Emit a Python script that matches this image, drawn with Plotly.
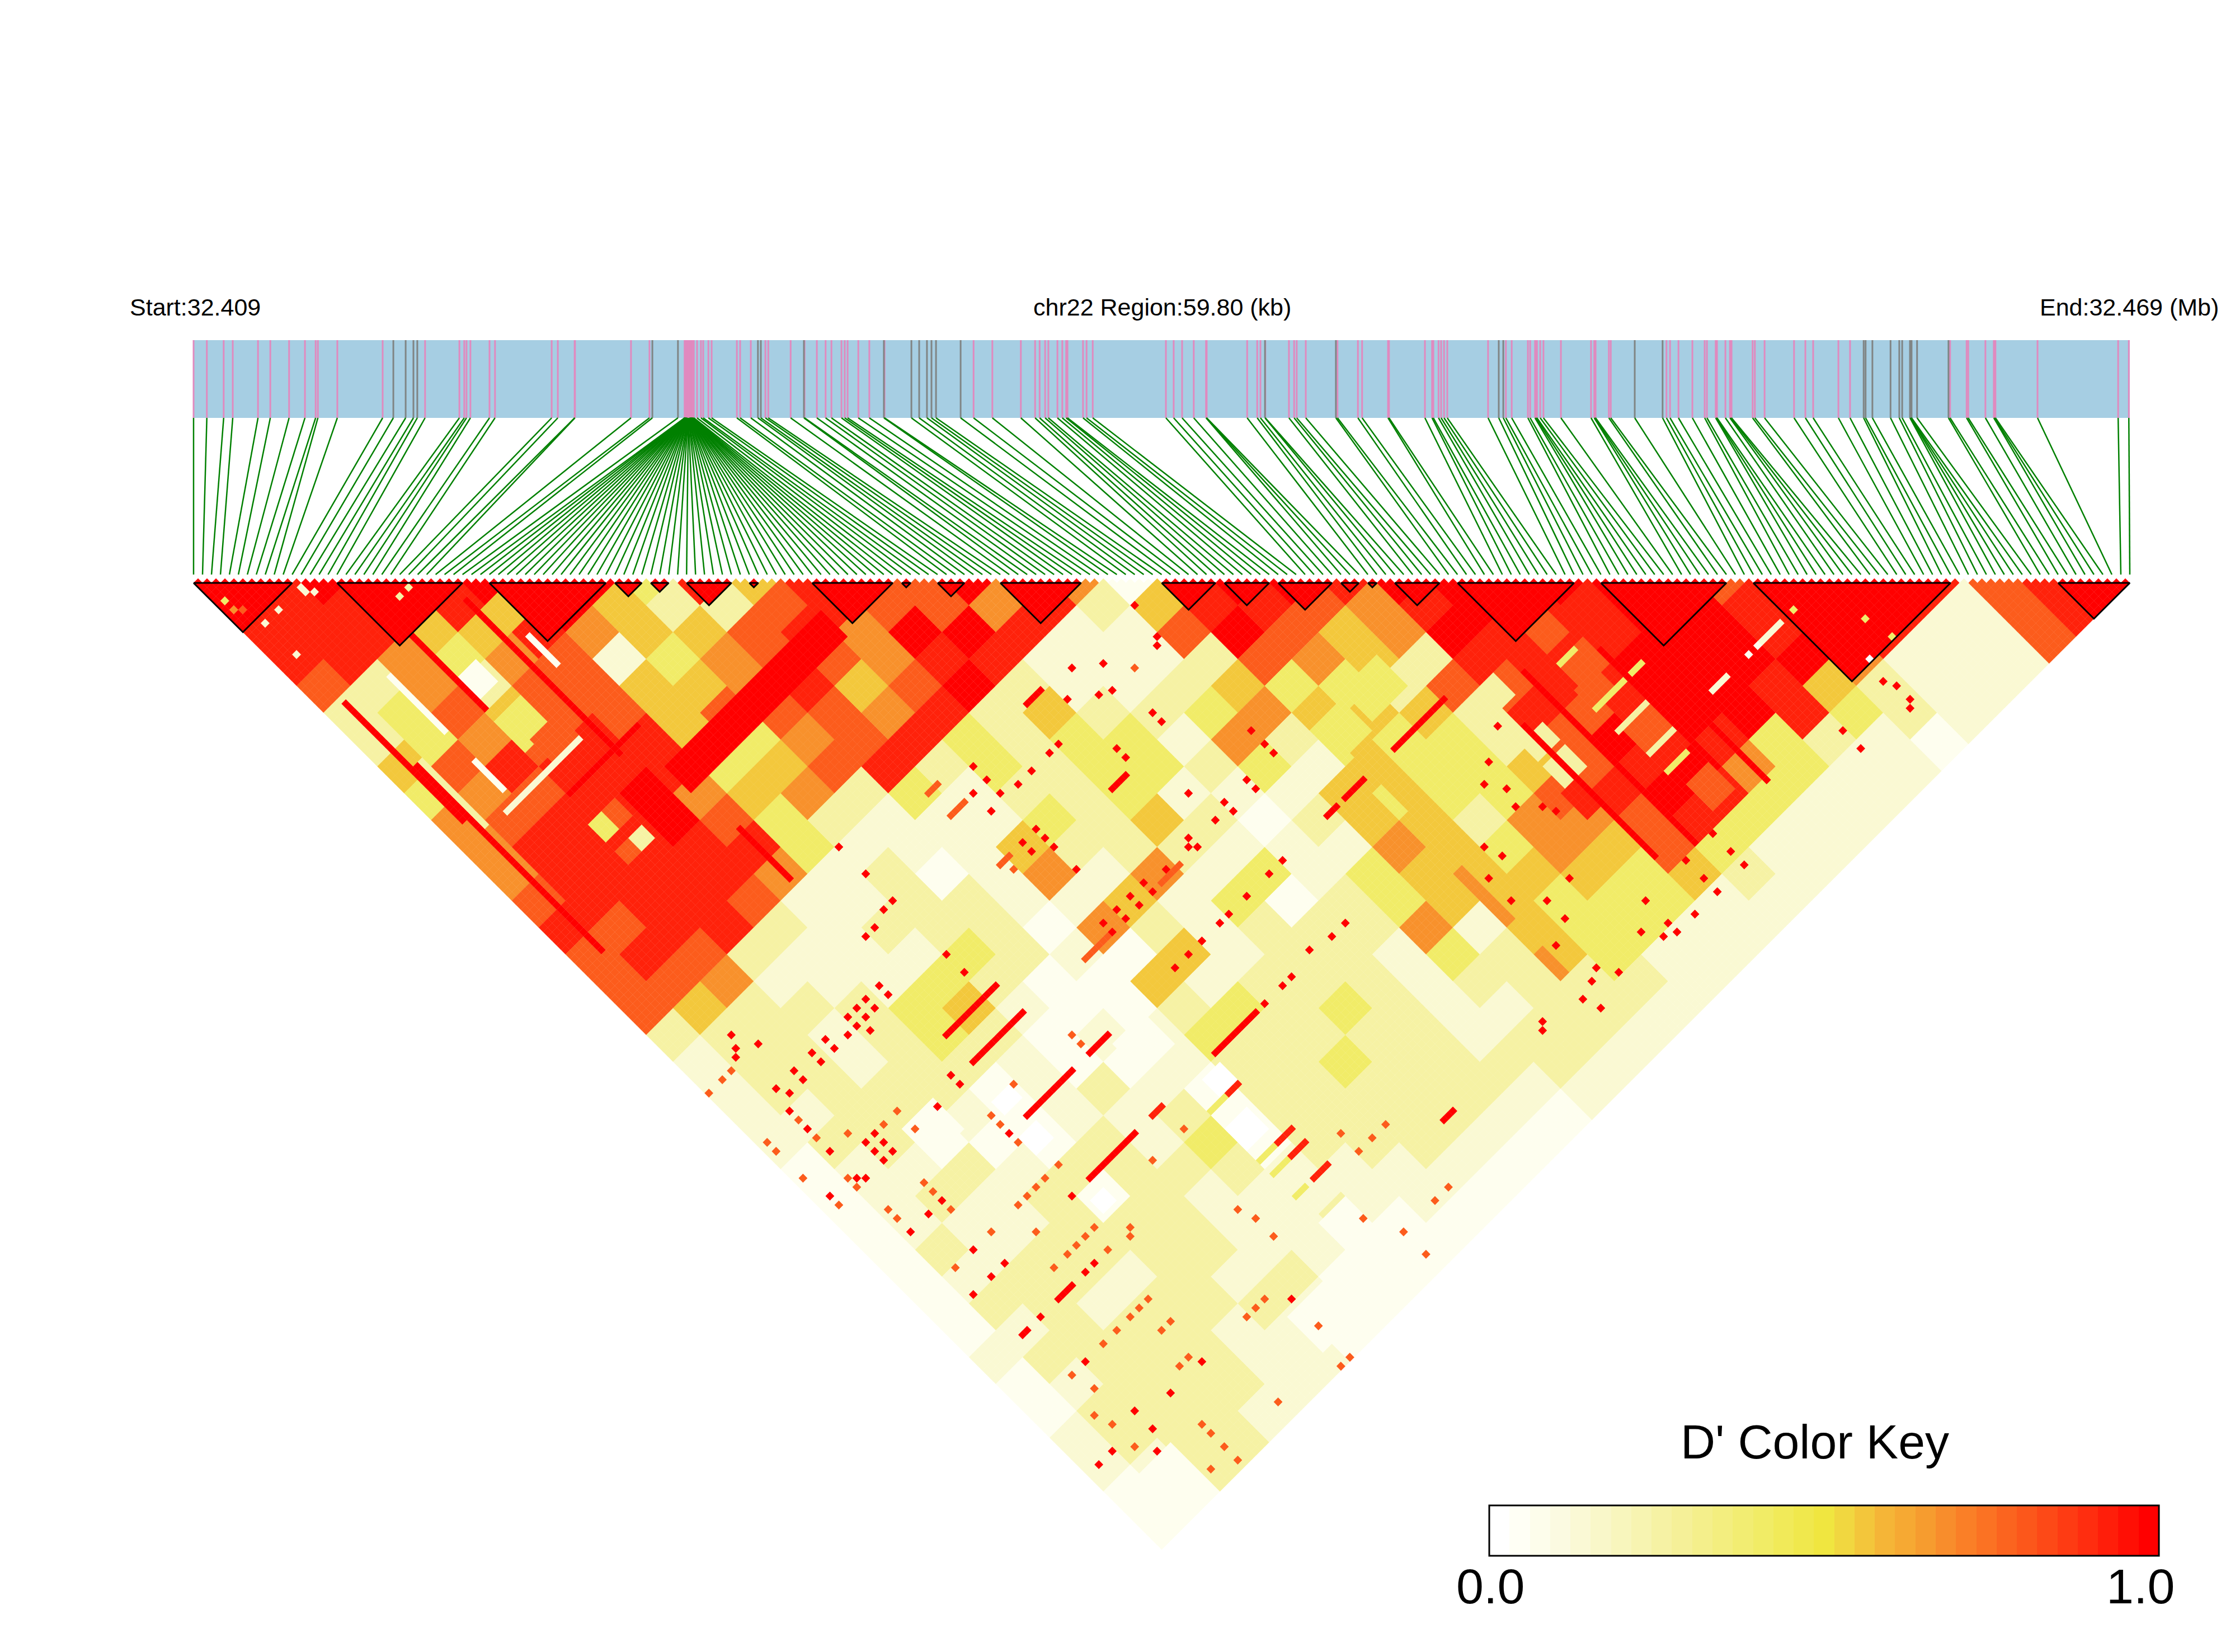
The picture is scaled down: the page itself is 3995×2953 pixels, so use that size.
import numpy as np
import plotly.graph_objects as go

# ---------- SNP positions read from the track (kb from region start) ----------
snp_kb = [
 0.00,0.41,0.93,1.21,1.99,2.37,2.95,3.44,3.77,3.84,4.44,5.84,6.17,6.55,6.79,6.91,7.15,8.21,8.36,8.43,8.55,9.14,9.31,
 11.06,11.25,11.77,11.78,13.51,14.08,14.17,14.96,
 15.17,15.17,15.18,15.18,15.19,15.19,15.20,15.20,15.20,15.21,15.21,15.22,15.22,15.23,15.23,15.24,15.24,15.25,15.25,
 15.26,15.26,15.27,15.27,15.27,15.28,15.28,15.29,15.29,15.30,15.30,15.31,15.31,15.32,15.32,15.33,15.33,15.34,15.34,
 15.35,15.35,15.36,15.36,15.37,15.38,15.39,15.40,15.42,
 15.45,15.55,15.67,15.74,15.90,16.00,16.78,16.88,17.21,17.43,17.52,17.66,17.75,18.44,18.85,18.87,19.25,19.52,19.70,
 20.01,20.11,20.20,20.53,20.87,21.32,21.34,22.17,22.41,22.65,22.79,22.93,23.69,24.09,24.67,25.55,25.99,26.13,26.30,26.40,
 26.68,26.83,26.95,26.99,27.47,27.58,27.77,
 30.03,30.27,30.53,30.89,31.27,31.28,31.29,32.54,32.85,32.95,33.09,33.10,33.83,33.99,34.07,34.35,35.28,35.33,35.96,36.09,
 36.89,36.92,38.03,38.25,38.29,38.45,38.53,38.62,38.72,39.98,40.31,40.45,40.53,40.71,41.21,41.28,41.43,41.46,41.49,41.59,41.69,
 42.23,43.16,43.26,43.28,43.30,43.71,43.77,44.51,
 45.37,45.49,45.60,45.86,46.29,46.67,46.74,47.01,47.03,47.05,47.31,47.45,47.48,47.50,48.15,48.22,48.52,49.43,49.78,50.02,
 50.80,51.16,51.58,51.64,51.85,52.41,52.68,52.77,53.01,53.03,53.04,53.06,53.23,54.20,54.25,54.76,54.81,55.34,55.60,55.62,55.65,
 56.95,59.44,59.77]
grey_kb = [6.17,6.55,6.79,6.91,14.17,14.96,17.43,17.52,18.85,21.32,22.17,22.41,22.65,22.79,22.93,23.69,33.09,35.28,
           40.31,40.45,44.51,45.37,51.58,51.64,51.85,52.41,52.68,52.77,53.01,53.03,53.04,53.06,53.23,54.20]
region_kb = 59.80
assert len(snp_kb) == 217, len(snp_kb)

# ---------- LD blocks (first SNP, last SNP) ----------
ld_blocks = [(0,11),(16,30),(33,46),(47,50),(51,53),(55,60),(62,63),(69,78),(79,80),(83,86),(90,99),
             (108,114),(115,120),(121,127),(128,130),(131,132),(134,139),(141,154),(157,171),(174,196),(208,216)]

# ---------- D' levels estimated per 6-SNP bin; one string per bin distance ----------
level_value = [0.0,0.05,0.13,0.25,0.4,0.56,0.68,0.8,0.93,1.0]
ld_rows = [
 "999999994858979961899899999979998789",
 "988885953378"+"77683588768"+"988998998278",
 "8885586557"+"8699822797"+"5698889989"+"8227",
 "8864672467"+"7688222376"+"5388899996"+"222",
 "7363775568"+"5793223544"+"3778899853"+"22",
 "3475775777"+"6835334655"+"5387899843"+"2",
 "3467885467"+"8434426344"+"4379884321",
 "5788884578"+"3434434254"+"457896422",
 "4678965634"+"2334222544"+"47898422",
 "6788974322"+"2435313553"+"6678422",
 "6888884222"+"5333222654"+"657422",
 "6888862312"+"6262424565"+"54532",
 "7888722332"+"2524134564"+"4422",
 "8788323331"+"6323336254"+"422",
 "7873222432"+"1523324364"+"22",
 "7762224311"+"5233323333"+"2",
 "7533345211"+"3434322332",
 "3332343122433332332",
 "233233211233433332",
 "23333123213333322",
 "2233212231333321",
 "233111324133321",
 "12232333322221",
 "1232313222221",
 "122233322111",
 "13233332211",
 "1233232311",
 "133233321",
 "12333221",
 "2333322",
 "123332",
 "13332",
 "2333",
 "223",
 "12",
 "1",
]
for d, r in enumerate(ld_rows):
    assert len(r) == 36 - d, (d, len(r))
bin_snps = 6

# runs: (first i, last i, first j, last j, level)
ld_patches = [(110,113,146,197,5),(116,123,141,147,4),(108,114,142,148,4),
              (54,58,177,181,0),(57,60,169,172,0),(51,57,155,161,1),(30,33,155,158,0),(31,34,148,150,0),(18,24,141,147,1),
              (31,33,170,172,0),(40,50,205,212,1),(50,60,208,216,1),(0,12,206,216,1),(0,5,140,148,1),
              (19,22,41,45,1),(18,23,50,56,4),(20,25,56,60,7),
              (32,66,74,79,9),(17,19,72,75,4),(17,19,78,80,7),(20,22,78,80,3),(20,22,72,75,7),
              (143,148,162,167,7),(142,146,167,171,7),(143,148,177,181,7),(143,147,154,159,7),
              (130,134,156,160,3),(130,134,172,176,3),(130,134,167,170,3),(129,132,177,182,8),(144,148,190,195,7)]
# fixed j, i from..to, level
ld_j_runs = [(173,54,58,4),(184,54,58,4),(187,54,58,4),(192,54,56,4),(197,55,59,3),
             (106,58,60,7),(111,58,61,7),(122,58,60,7),(142,57,62,7),(142,74,78,7),
             (135,33,44,9),(141,33,44,9),(153,33,43,9),(153,47,51,9),(167,33,43,9),(167,61,70,9),(126,79,82,9),
             (153,100,102,9),(153,104,108,9),(153,115,126,9),(107,79,82,9),(173,58,60,8),(167,47,49,8),(184,58,61,8),
             (187,58,61,8),(192,58,61,8),(200,79,81,9),(177,16,19,9),(66,18,33,9),
             (171,142,152,4),(176,142,149,3),(182,143,148,3),(186,143,147,4),(162,143,146,4),(182,157,160,2),(182,168,172,2),
             (61,9,25,2)]
# fixed i, j from..to, level
ld_i_runs = [(11,33,45,1),(5,46,60,3),
             (3,31,57,9),(4,46,87,9),(18,30,47,9),(28,33,67,9),(33,89,100,9),(138,159,197,9),(132,165,194,9),
             (153,172,198,9),(149,165,186,9),(31,44,50,1),(11,52,58,1)]
red_pairs = [(8,113),(7,114),(11,115),(12,122),(16,122),(16,124),(19,124),(19,122),(12,124),(7,126),(29,140),(29,142),(24,142),
 (7,130),(7,135),(14,138),(12,138),(14,140),(12,140),(14,142),(12,142),(7,141),(8,142),(2,140),(7,153),(11,153),(14,153),(12,162),
 (7,167),(11,167),(14,167),(29,153),(22,177),(24,177),(29,167),(12,177),(12,187),(25,200),(18,200),(12,198),(5,200),(10,205),(12,202),
 (2,200),(42,203),(8,122),(9,124),(9,111),(8,177),(9,177),
 (92,111),(88,108),(102,108),(101,114),(100,115),(88,114),(90,115),(84,111),(92,122),(92,124),(84,122),(84,124),(76,115),(78,115),
 (72,115),(66,108),(66,111),(63,111),(69,115),(66,114),(63,115),(87,135),(90,140),(90,142),(87,141),(95,140),(95,142),(101,135),
 (101,138),(101,140),(82,140),(81,141),(82,142),(66,122),(66,124),(63,122),(63,124),(66,126),(66,131),(42,108),(42,102),(42,114),
 (40,114),(37,115),(35,115),(66,140),(69,140),(69,142),(66,142),(72,142),(76,141),(72,140),(63,140),(63,142),(82,153),(78,153),
 (76,153),(72,153),(69,153),(66,153),(83,166),(76,167),(78,167),(72,167),(90,153),(87,153),(42,126),(42,130),(31,122),(28,122),
 (31,124),(28,124),(26,122),(24,122),(26,124),(24,124),(25,126),(22,124),(90,167),(87,167),
 (178,205),(177,206),(177,200),(178,202),(167,201),(167,205),(141,198),(141,205),(141,202),(135,205),(135,198),(135,202),(130,205),
 (126,203),(124,204),(122,201),(126,205),(126,198),(120,187),(115,187),(113,200),(115,203),(111,201),(108,202),(109,205),(101,200),
 (100,201),(115,191),(121,167),(129,162),(124,165),(123,170),(122,173),(126,178),(125,176),(114,174),(115,177),(111,178),(111,193),(111,183)]
orange_pairs = [(0,115),(5,115),(3,115),(7,128),(7,132),(11,135),(6,140),(6,142),(7,148),(7,150),(2,142),(1,129),(1,127),(1,135),
 (14,149),(14,151),(14,155),(16,162),(8,162),(21,167),(19,173),(22,173),(24,173),(26,173),(28,173),(27,177),(28,162),(26,162),(24,162),
 (22,162),(29,155),(29,151),(29,149),(19,142),(19,138),(16,138),(35,148),(31,162),(42,172),(49,172),(46,187),(47,190),(47,194),(31,178),
 (32,177),(26,187),(24,187),(22,187),(19,187),(16,187),(9,187),(10,191),(7,194),(8,197),(8,202),(18,207),(18,209),(18,212),(18,215),
 (14,213),(29,213),(62,213),(62,208),(69,208),(59,202),(72,194),(69,194),(66,190),(66,194),(72,208),(39,200),(37,200),(35,200),(42,209),
 (42,216),(40,216),(24,198),(22,198),(24,192),(26,192),(95,115),(47,149),(47,151),(59,124)]
other_pairs = [(1,6,4),(1,8,6),(2,9,7),(11,13,2),(11,14,2),(12,15,2),(6,13,2),(3,13,2),(3,20,2),(21,25,3),(23,25,3),
 (175,182,4),(182,191,4),(178,196,0),(183,196,4),(165,182,1),(167,182,1)]

key_steps = 33
colorscale = [[0,'#FFFFFF'],[0.03,'#FFFFF5'],[0.1,'#FBFADF'],[0.2,'#F8F5B8'],[0.3,'#F4EF90'],[0.4,'#F1EC68'],[0.5,'#F0E640'],
              [0.53,'#F1D840'],[0.6,'#F5B236'],[0.65,'#F69F30'],[0.7,'#F9872A'],[0.8,'#FC5C1C'],[0.9,'#FF3010'],[1,'#FF0000']]

# ---------- assemble the matrix ----------
N = len(snp_kb)
M = np.zeros((N, N))
for i in range(N):
    for j in range(i + 1, N):
        I, J = min(i // bin_snps, 35), min(j // bin_snps, 35)
        M[i, j] = level_value[int(ld_rows[J - I][I])]
for a, b, c, e, v in ld_patches:
    for i in range(a, b + 1):
        for j in range(c, e + 1):
            if i < j: M[i, j] = level_value[v]
for j, a, b, v in ld_j_runs:
    for i in range(a, b + 1):
        if i < j: M[i, j] = level_value[v]
for i, a, b, v in ld_i_runs:
    for j in range(a, b + 1):
        if i < j: M[i, j] = level_value[v]
for a, b in ld_blocks:
    for i in range(a, b + 1):
        for j in range(i + 1, b + 1):
            M[i, j] = 1.0
for i, j in red_pairs:
    M[i, j] = 1.0
for i, j in orange_pairs:
    M[i, j] = level_value[7]
for i, j, v in other_pairs:
    M[i, j] = level_value[v]

iu, ju = np.triu_indices(N, 1)

# ---------- layout geometry: axes are in SNP-step units ----------
W, H = 3995, 2953
xstep, ystep = 16.023, 16.0
left, top = 346.0, 1034.0
track_top, track_bottom = (608 - top) / ystep, (747 - top) / ystep
link_end = (1027 - top) / ystep
xpos = [k / region_kb * (N - 1) for k in snp_kb]

fig = go.Figure()

def seg_trace(xs, ys, color, width):
    return go.Scatter(x=xs, y=ys, mode='lines', line=dict(color=color, width=width),
                      hoverinfo='skip', showlegend=False, connectgaps=False)

px, py, gx, gy = [], [], [], []
for k, p in zip(snp_kb, xpos):
    if k in grey_kb:
        gx += [p, p, None]; gy += [track_top, track_bottom, None]
    else:
        px += [p, p, None]; py += [track_top, track_bottom, None]
fig.add_trace(seg_trace(px, py, '#E08ABF', 3))
fig.add_trace(seg_trace(gx, gy, '#808585', 3))

lx, ly = [], []
for k, p in enumerate(xpos):
    lx += [p, k, None]; ly += [track_bottom, link_end, None]
fig.add_trace(seg_trace(lx, ly, '#008000', 2.5))

fig.add_trace(go.Scatter(
    x=(iu + ju) / 2, y=(ju - iu) / 2, mode='markers', hoverinfo='skip', showlegend=False,
    marker=dict(symbol='diamond', size=12.5, color=M[iu, ju], cmin=0, cmax=1,
                colorscale=colorscale, line=dict(width=0), showscale=False)))

bx, by = [], []
for a, b in ld_blocks:
    bx += [a, b, (a + b) / 2, a, None]
    by += [0.5, 0.5, (b - a) / 2 + 0.5, 0.5, None]
fig.add_trace(seg_trace(bx, by, '#000000', 3))

# colour key
key_l, key_r = (2662 - left) / xstep, (3859 - left) / xstep
key_t, key_b = (2691 - top) / ystep, (2781 - top) / ystep
fig.add_trace(go.Heatmap(
    z=[[s / (key_steps - 1) for s in range(key_steps)]],
    x0=key_l + (key_r - key_l) / key_steps / 2, dx=(key_r - key_l) / key_steps,
    y0=(key_t + key_b) / 2, dy=key_b - key_t,
    zmin=0, zmax=1, colorscale=colorscale, showscale=False, hoverinfo='skip'))

def label(text, xp, yp, size):
    return dict(text=text, xref='paper', yref='paper', x=xp / W, y=1 - yp / H, showarrow=False,
                xanchor='center', yanchor='middle', font=dict(family='Liberation Sans', size=size, color='black'))

fig.update_layout(
    width=W, height=H, autosize=False, margin=dict(l=0, r=0, t=0, b=0),
    paper_bgcolor='white', plot_bgcolor='white', showlegend=False,
    xaxis=dict(range=[-left / xstep, (W - left) / xstep], visible=False, fixedrange=True),
    yaxis=dict(range=[(H - top) / ystep, -top / ystep], visible=False, fixedrange=True),
    shapes=[
        dict(type='rect', xref='x', yref='y', x0=0, x1=N - 1, y0=track_top, y1=track_bottom,
             fillcolor='#A6CEE3', line=dict(width=0), layer='below'),
        dict(type='rect', xref='x', yref='y', x0=key_l, x1=key_r, y0=key_t, y1=key_b,
             fillcolor='rgba(0,0,0,0)', line=dict(color='black', width=3), layer='above'),
    ],
    annotations=[
        label('Start:32.409', 349, 549, 43),
        label('chr22 Region:59.80 (kb)', 2077, 549, 43),
        label('End:32.469 (Mb)', 3806, 549, 43),
        label("D' Color Key", 3244, 2577, 86),
        label('0.0', 2664, 2835, 88),
        label('1.0', 3826, 2835, 88),
    ],
)

fig.write_html("out.html", post_script="document.body.style.margin='0px';",
               config=dict(displayModeBar=False))
